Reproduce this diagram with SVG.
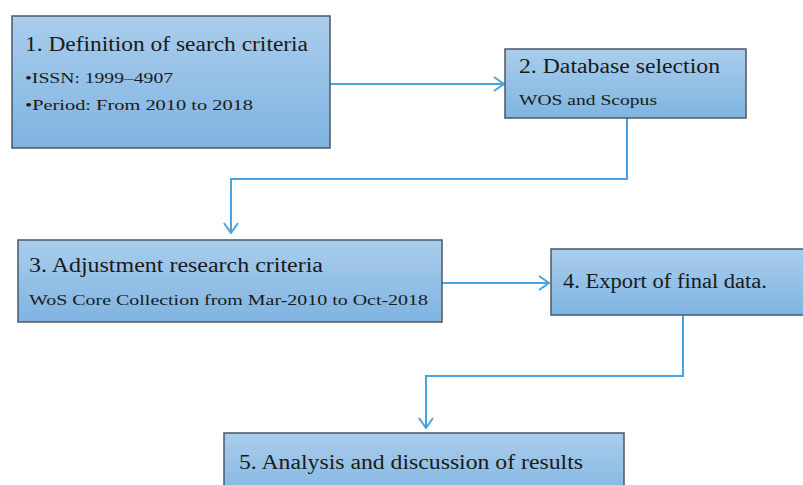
<svg xmlns="http://www.w3.org/2000/svg" width="803" height="485" viewBox="0 0 803 485">
<defs>
<linearGradient id="g" x1="0" y1="0" x2="0" y2="1">
<stop offset="0" stop-color="#aacdec"/>
<stop offset="1" stop-color="#7fb4e1"/>
</linearGradient>
<marker id="arr" viewBox="0 0 12 16" refX="11" refY="8" markerWidth="12" markerHeight="16" markerUnits="userSpaceOnUse" orient="auto">
<path d="M1,1 L11,8 L1,15" fill="none" stroke="#4aa3dd" stroke-width="2"/>
</marker>
</defs>
<style>
.box{fill:url(#g);stroke:#4b5866;stroke-width:1.5}
.t{font-family:"Liberation Serif","DejaVu Serif",serif;fill:#1a1a1a}
.h{font-size:20px}
.s{font-size:14px}
.c{fill:none;stroke:#4aa3dd;stroke-width:2}
</style>
<rect width="803" height="485" fill="#ffffff"/>
<g id="connectors">
<path class="c" d="M330,84 H504" marker-end="url(#arr)"/>
<path class="c" d="M627,118 V179 H231 V233" marker-end="url(#arr)"/>
<path class="c" d="M442,283 H549" marker-end="url(#arr)"/>
<path class="c" d="M683,315 V376 H426 V428" marker-end="url(#arr)"/>
</g>
<g id="node1">
<rect class="box" x="12" y="16" width="318" height="132"/>
<text class="t h" x="25" y="51" textLength="283" lengthAdjust="spacingAndGlyphs">1. Definition of search criteria</text>
<text class="t s" x="25" y="83" textLength="148" lengthAdjust="spacingAndGlyphs">•ISSN: 1999–4907</text>
<text class="t s" x="25" y="110" textLength="228" lengthAdjust="spacingAndGlyphs">•Period:  From  2010 to 2018</text>
</g>
<g id="node2">
<rect class="box" x="505" y="49" width="241" height="69"/>
<text class="t h" x="519" y="73" textLength="201" lengthAdjust="spacingAndGlyphs">2. Database selection</text>
<text class="t s" x="519" y="105" textLength="138" lengthAdjust="spacingAndGlyphs">WOS and  Scopus</text>
</g>
<g id="node3">
<rect class="box" x="18" y="240" width="424" height="82"/>
<text class="t h" x="29" y="272" textLength="294" lengthAdjust="spacingAndGlyphs">3. Adjustment research criteria</text>
<text class="t s" x="29" y="305" textLength="399" lengthAdjust="spacingAndGlyphs">WoS Core  Collection from  Mar-2010 to Oct-2018</text>
</g>
<g id="node4">
<rect class="box" x="551" y="249" width="260" height="66"/>
<text class="t h" x="563" y="288" textLength="204" lengthAdjust="spacingAndGlyphs">4. Export of final  data.</text>
</g>
<g id="node5">
<rect class="box" x="224" y="433" width="400" height="70"/>
<text class="t h" x="239" y="469" textLength="344" lengthAdjust="spacingAndGlyphs">5. Analysis and discussion of results</text>
</g>
</svg>
